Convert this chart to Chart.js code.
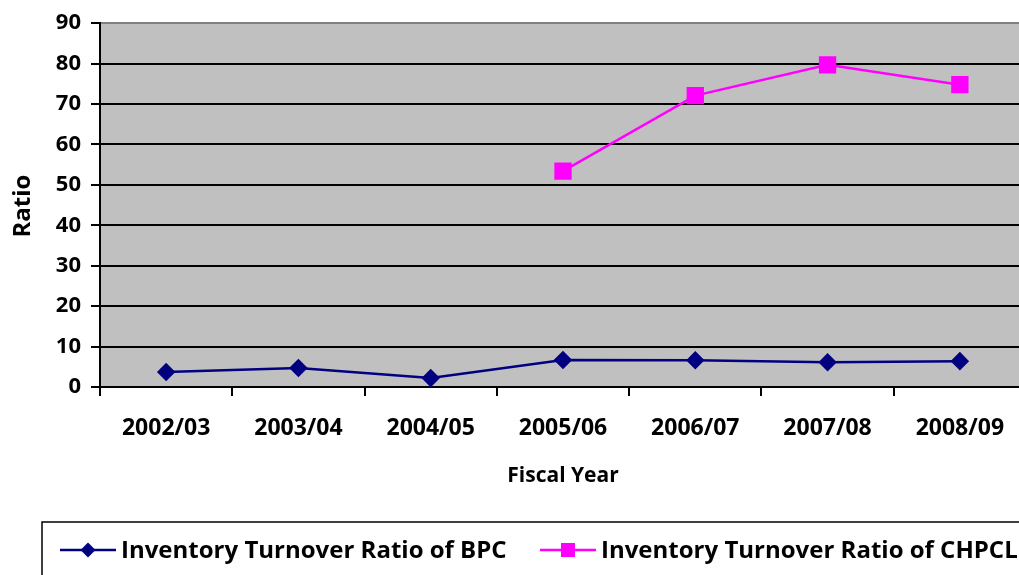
<!DOCTYPE html>
<html>
<head>
<meta charset="utf-8">
<script src="https://cdn.jsdelivr.net/npm/chart.js@4/dist/chart.umd.min.js"></script>
<style>
  html, body { margin: 0; padding: 0; background: #fff; overflow: hidden; }
  #wrap { width: 1019px; height: 575px; overflow: hidden; position: relative; }
  #wrap canvas { position: absolute; left: 0; top: 0; }
</style>
</head>
<body>
<div id="wrap"><canvas id="ratioChart" width="1039" height="575" style="width:1039px;height:575px"></canvas></div>
<script>
const fiscalYears = ['2002/03', '2003/04', '2004/05', '2005/06', '2006/07', '2007/08', '2008/09']
const bpcRatio = [3.7, 4.7, 2.2, 6.7, 6.6, 6.1, 6.4]
const chpclRatio = [null, null, null, 53.4, 72.1, 79.7, 74.8]
const yTicks = [0, 10, 20, 30, 40, 50, 60, 70, 80, 90]

const FONT = "'Open Sans', sans-serif"

// plot background, axis titles and the boxed legend
const decorPlugin = {
  id: 'decor',
  beforeDraw(chart) {
    const { ctx, chartArea } = chart
    ctx.save()
    ctx.fillStyle = '#C0C0C0'
    ctx.fillRect(chartArea.left, chartArea.top, chartArea.right - chartArea.left, chartArea.bottom - chartArea.top)
    ctx.restore()
  },
  afterDraw(chart) {
    const { ctx } = chart
    ctx.save()
    ctx.fillStyle = '#000'
    ctx.font = "bold 24px " + FONT
    ctx.textAlign = 'center'
    ctx.textBaseline = 'middle'
    ctx.translate(23, 206)
    ctx.rotate(-Math.PI / 2)
    ctx.fillText('Ratio', 0, 0)
    ctx.restore()

    ctx.save()
    ctx.fillStyle = '#000'
    ctx.font = "bold 21px " + FONT
    ctx.textAlign = 'center'
    ctx.textBaseline = 'middle'
    ctx.fillText('Fiscal Year', 563, 476)

    // legend box
    ctx.strokeStyle = '#000'
    ctx.lineWidth = 1.5
    ctx.strokeRect(42, 522, 1000, 80)
    const items = chart.data.datasets.map((ds, i) => ({ ds, x: i === 0 ? 60 : 540 }))
    items.forEach(({ ds, x }) => {
      const y = 550
      ctx.strokeStyle = ds.borderColor
      ctx.lineWidth = 2.5
      ctx.beginPath()
      ctx.moveTo(x, y)
      ctx.lineTo(x + 56, y)
      ctx.stroke()
      ctx.fillStyle = ds.pointBackgroundColor
      const cx = x + 28
      if (ds.pointStyle === 'rectRot') {
        ctx.beginPath()
        ctx.moveTo(cx, y - 7.5)
        ctx.lineTo(cx + 7.5, y)
        ctx.lineTo(cx, y + 7.5)
        ctx.lineTo(cx - 7.5, y)
        ctx.closePath()
        ctx.fill()
      } else {
        ctx.fillRect(cx - 7, y - 7, 14, 14)
      }
      ctx.fillStyle = '#000'
      ctx.font = "bold 24px " + FONT
      ctx.textAlign = 'left'
      ctx.fillText(ds.label, x + 61, y + 1)
    })
    ctx.restore()
  }
}

new Chart(document.getElementById('ratioChart'), {
  type: 'line',
  data: {
    labels: fiscalYears,
    datasets: [
      {
        label: 'Inventory Turnover Ratio of BPC',
        data: bpcRatio,
        borderColor: '#000080',
        backgroundColor: '#000080',
        pointBackgroundColor: '#000080',
        pointBorderColor: '#000080',
        pointStyle: 'rectRot',
        pointRadius: 7.5,
        borderWidth: 2.5,
        tension: 0
      },
      {
        label: 'Inventory Turnover Ratio of CHPCL',
        data: chpclRatio,
        borderColor: '#FF00FF',
        backgroundColor: '#FF00FF',
        pointBackgroundColor: '#FF00FF',
        pointBorderColor: '#FF00FF',
        pointStyle: 'rect',
        pointRadius: 10.5,
        borderWidth: 2.5,
        tension: 0
      }
    ]
  },
  options: {
    responsive: false,
    animation: false,
    layout: { padding: { top: 21, right: 6, left: 0, bottom: 0 } },
    plugins: {
      legend: { display: false },
      tooltip: { enabled: false }
    },
    scales: {
      x: {
        offset: true,
        grid: { offset: true, drawOnChartArea: false, color: '#000', lineWidth: 2, tickLength: 9, tickColor: '#000' },
        border: { color: '#000', width: 2 },
        ticks: { color: '#000', font: { family: FONT, size: 23, weight: 'bold' }, padding: 19, maxRotation: 0 },
        afterFit(scale) { scale.height = 575 - 387 }
      },
      y: {
        min: 0,
        max: 90,
        afterBuildTicks(scale) { scale.ticks = yTicks.map(v => ({ value: v })) },
        grid: {
          color: ctx => (ctx.tick && ctx.tick.value === 90 ? '#808080' : '#000'),
          lineWidth: 2,
          tickLength: 9,
          tickColor: '#000'
        },
        border: { color: '#000', width: 2 },
        ticks: { color: '#000', font: { family: FONT, size: 22, weight: 'bold' }, padding: 10 },
        afterFit(scale) { scale.width = 100 }
      }
    }
  },
  plugins: [decorPlugin]
})
</script>
</body>
</html>
